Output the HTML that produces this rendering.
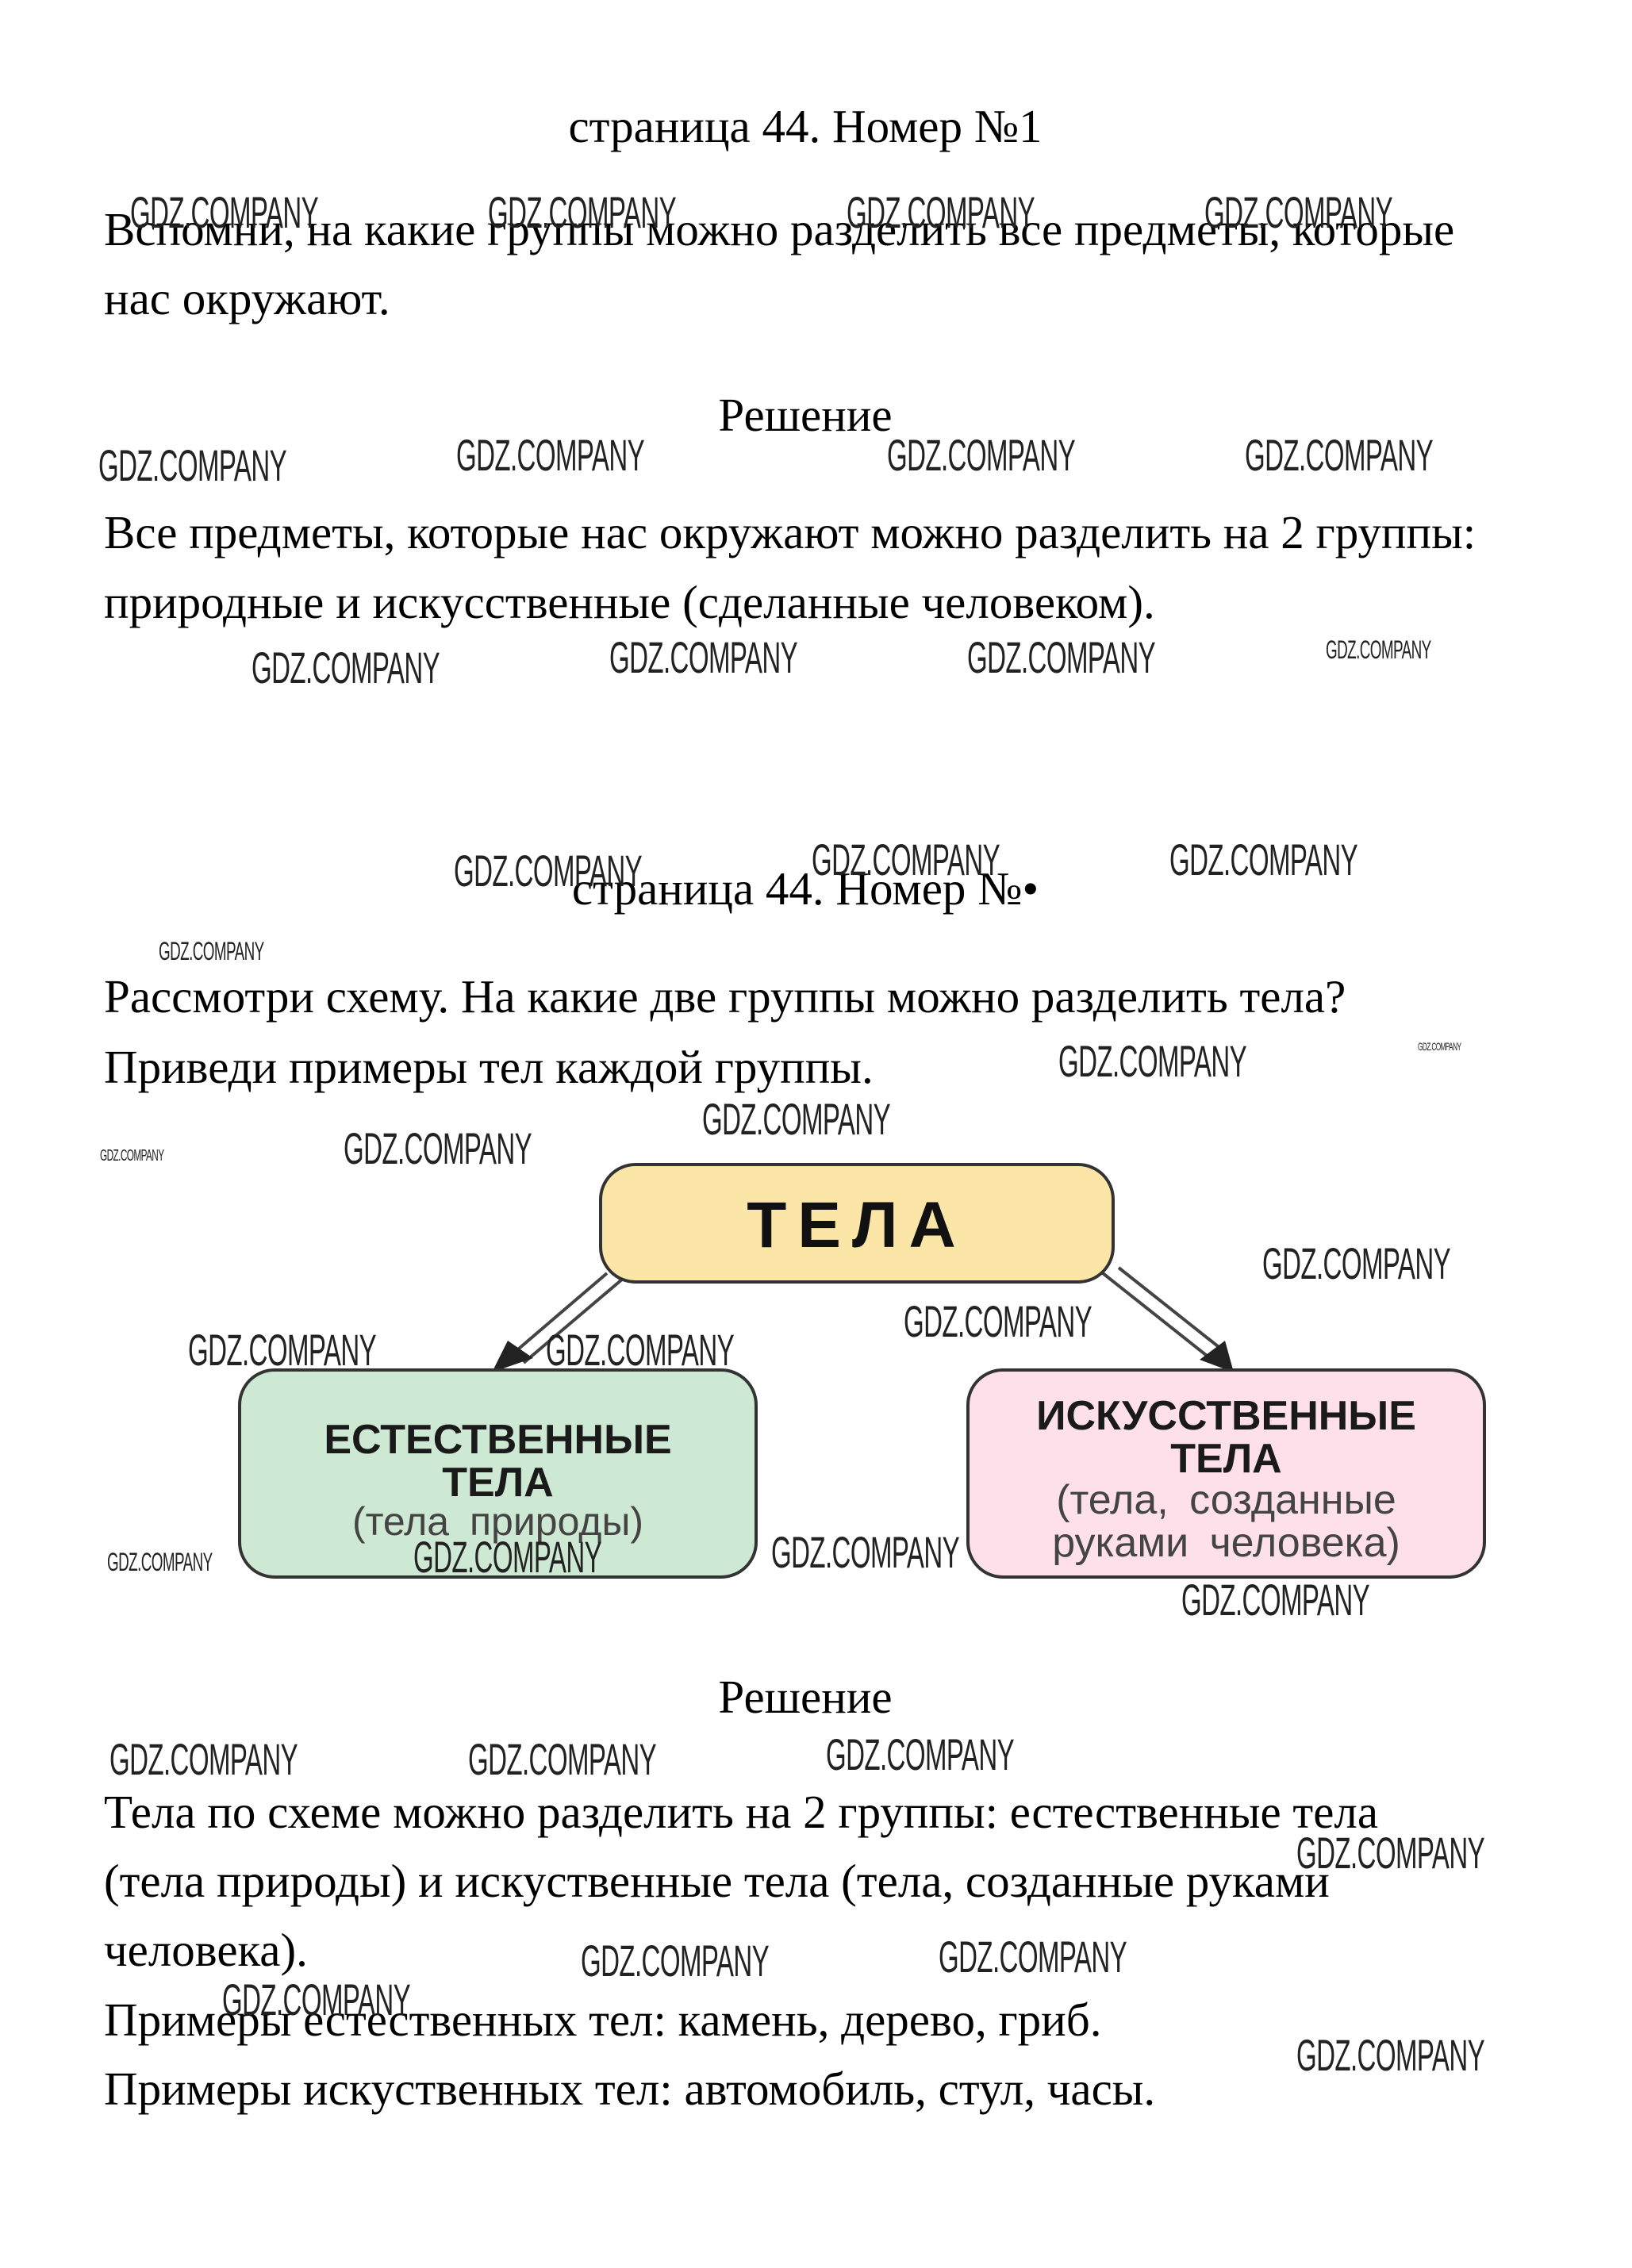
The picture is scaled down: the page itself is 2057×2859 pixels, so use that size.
<!DOCTYPE html>
<html><head><meta charset="utf-8"><style>
html,body{margin:0;padding:0;background:#fff;}
body{width:2057px;height:2859px;position:relative;overflow:hidden;font-family:"Liberation Serif",serif;color:#000;}
.t{position:absolute;font-size:59px;line-height:1;white-space:nowrap;}
.c{left:0;width:2030px;text-align:center;}
.w{position:absolute;font-family:"Liberation Sans",sans-serif;font-size:56px;line-height:1;white-space:nowrap;color:#222;transform:scaleX(0.59);transform-origin:0 0;letter-spacing:-1px;font-weight:normal;}
.s{font-size:32px;}
.xs{font-size:14px;}
.bx{position:absolute;border:4px solid #333;border-radius:46px;box-sizing:border-box;font-family:"Liberation Sans",sans-serif;text-align:center;}
.bl{position:absolute;left:0;right:0;font-family:"Liberation Sans",sans-serif;line-height:1;white-space:nowrap;}
</style></head><body>
<div class="t c" style="top:130px">страница 44. Номер №1</div>
<div class="t" style="left:131px;top:260px">Вспомни, на какие группы можно разделить все предметы, которые</div>
<div class="t" style="left:131px;top:347px">нас окружают.</div>
<div class="t c" style="top:494px">Решение</div>
<div class="t" style="left:131px;top:642px">Все предметы, которые нас окружают можно разделить на 2 группы:</div>
<div class="t" style="left:131px;top:730px">природные и искусственные (сделанные человеком).</div>
<div class="t c" style="top:1091px">страница 44. Номер №•</div>
<div class="t" style="left:131px;top:1227px">Рассмотри схему. На какие две группы можно разделить тела?</div>
<div class="t" style="left:131px;top:1316px">Приведи примеры тел каждой группы.</div>

<svg style="position:absolute;left:0;top:0" width="2057" height="2859">
<g stroke="#444" stroke-width="4" fill="none">
<line x1="765" y1="1605" x2="640" y2="1712"/><line x1="785" y1="1612" x2="660" y2="1718"/>
<line x1="1390" y1="1605" x2="1525" y2="1712"/><line x1="1410" y1="1598" x2="1545" y2="1705"/>
</g>
<polygon points="620,1730 640,1690 672,1712" fill="#222"/>
<polygon points="1555,1730 1512,1714 1544,1690" fill="#222"/>
</svg>

<div class="bx" style="left:755px;top:1466px;width:650px;height:152px;background:#fbe6a8;">
<div class="bl" style="top:34px;font-size:82px;font-weight:bold;letter-spacing:14px;color:#111">ТЕЛА</div></div>
<div class="bx" style="left:300px;top:1725px;width:655px;height:265px;background:#cde9d3;">
<div class="bl" style="top:60px;font-size:52px;font-weight:bold;color:#1a1a1a">ЕСТЕСТВЕННЫЕ</div>
<div class="bl" style="top:114px;font-size:52px;font-weight:bold;color:#1a1a1a">ТЕЛА</div>
<div class="bl" style="top:164px;font-size:50px;color:#444;word-spacing:12px">(тела природы)</div></div>
<div class="bx" style="left:1218px;top:1725px;width:655px;height:265px;background:#fde0ea;">
<div class="bl" style="top:30px;font-size:52px;font-weight:bold;color:#1a1a1a">ИСКУССТВЕННЫЕ</div>
<div class="bl" style="top:84px;font-size:52px;font-weight:bold;color:#1a1a1a">ТЕЛА</div>
<div class="bl" style="top:136px;font-size:52px;color:#444;word-spacing:12px">(тела, созданные</div>
<div class="bl" style="top:190px;font-size:52px;color:#444;word-spacing:12px">руками человека)</div></div>

<div class="t c" style="top:2110px">Решение</div>
<div class="t" style="left:131px;top:2255px">Тела по схеме можно разделить на 2 группы: естественные тела</div>
<div class="t" style="left:131px;top:2342px">(тела природы) и искуственные тела (тела, созданные руками</div>
<div class="t" style="left:131px;top:2429px">человека).</div>
<div class="t" style="left:131px;top:2517px">Примеры естественных тел: камень, дерево, гриб.</div>
<div class="t" style="left:131px;top:2604px">Примеры искуственных тел: автомобиль, стул, часы.</div>

<div class="w" style="left:164px;top:240px">GDZ.COMPANY</div>
<div class="w" style="left:615px;top:240px">GDZ.COMPANY</div>
<div class="w" style="left:1067px;top:240px">GDZ.COMPANY</div>
<div class="w" style="left:1518px;top:240px">GDZ.COMPANY</div>
<div class="w" style="left:124px;top:559px">GDZ.COMPANY</div>
<div class="w" style="left:575px;top:546px">GDZ.COMPANY</div>
<div class="w" style="left:1118px;top:546px">GDZ.COMPANY</div>
<div class="w" style="left:1569px;top:546px">GDZ.COMPANY</div>
<div class="w" style="left:317px;top:814px">GDZ.COMPANY</div>
<div class="w" style="left:768px;top:801px">GDZ.COMPANY</div>
<div class="w" style="left:1219px;top:801px">GDZ.COMPANY</div>
<div class="w s" style="left:1671px;top:803px">GDZ.COMPANY</div>
<div class="w" style="left:572px;top:1070px">GDZ.COMPANY</div>
<div class="w" style="left:1023px;top:1056px">GDZ.COMPANY</div>
<div class="w" style="left:1474px;top:1056px">GDZ.COMPANY</div>
<div class="w s" style="left:200px;top:1183px">GDZ.COMPANY</div>
<div class="w" style="left:1334px;top:1310px">GDZ.COMPANY</div>
<div class="w xs" style="left:1787px;top:1312px">GDZ.COMPANY</div>
<div class="w" style="left:885px;top:1383px">GDZ.COMPANY</div>
<div class="w" style="left:433px;top:1420px">GDZ.COMPANY</div>
<div class="w xs" style="left:126px;top:1447px;font-size:20px">GDZ.COMPANY</div>
<div class="w" style="left:1591px;top:1565px">GDZ.COMPANY</div>
<div class="w" style="left:1139px;top:1638px">GDZ.COMPANY</div>
<div class="w" style="left:237px;top:1674px">GDZ.COMPANY</div>
<div class="w" style="left:688px;top:1674px">GDZ.COMPANY</div>
<div class="w" style="left:521px;top:1935px">GDZ.COMPANY</div>
<div class="w" style="left:972px;top:1929px">GDZ.COMPANY</div>
<div class="w s" style="left:135px;top:1953px">GDZ.COMPANY</div>
<div class="w" style="left:1489px;top:1989px">GDZ.COMPANY</div>
<div class="w" style="left:138px;top:2190px">GDZ.COMPANY</div>
<div class="w" style="left:590px;top:2190px">GDZ.COMPANY</div>
<div class="w" style="left:1041px;top:2184px">GDZ.COMPANY</div>
<div class="w" style="left:1634px;top:2308px">GDZ.COMPANY</div>
<div class="w" style="left:732px;top:2444px">GDZ.COMPANY</div>
<div class="w" style="left:1183px;top:2439px">GDZ.COMPANY</div>
<div class="w" style="left:280px;top:2493px">GDZ.COMPANY</div>
<div class="w" style="left:1634px;top:2563px">GDZ.COMPANY</div>
</body></html>
